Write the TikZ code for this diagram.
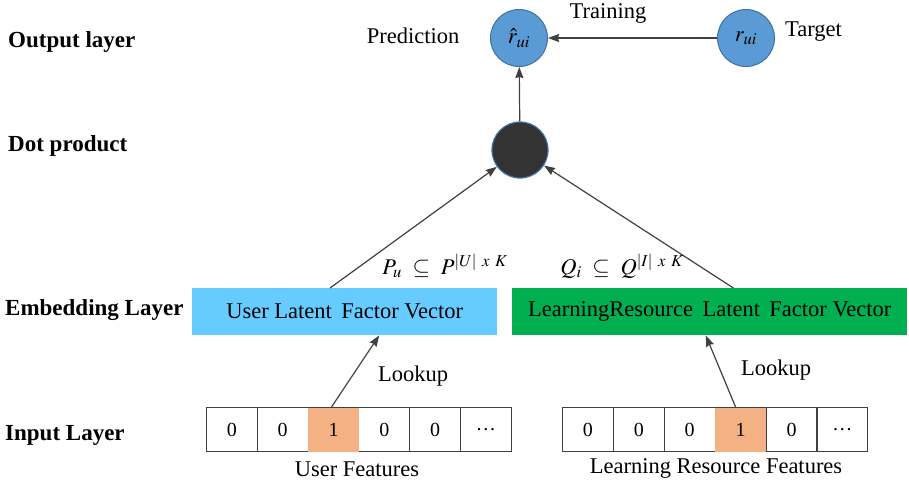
\documentclass[tikz,border=0pt]{standalone}
\usepackage{mathptmx}
\usepackage{fontspec}
\setmainfont{Liberation Serif}
\usetikzlibrary{arrows.meta,calc}
\definecolor{ballblue}{HTML}{5B9BD5}
\definecolor{ballrim}{HTML}{41719C}
\definecolor{userblue}{HTML}{66CCFF}
\definecolor{resgreen}{HTML}{00B050}
\definecolor{hotcell}{HTML}{F4B183}
\definecolor{wire}{HTML}{404040}
\begin{document}
\begin{tikzpicture}[x=1pt,y=-1pt,
  every node/.style={font=\fontsize{22.5}{26}\selectfont, inner sep=0pt},
  layer/.style={anchor=west, font=\fontsize{23}{27}\selectfont\bfseries},
  ball/.style={circle, minimum size=57pt, fill=ballblue, draw=ballrim, line width=1pt},
  dotball/.style={circle, minimum size=56pt, fill=black!80, draw=ballrim, line width=1.2pt},
  vecbox/.style={rectangle, minimum height=47pt, anchor=north west},
  cell/.style={rectangle, draw=wire, line width=1pt, minimum width=50.8pt, minimum height=44pt, anchor=north west, font=\fontsize{20}{24}\selectfont},
  link/.style={draw=wire, line width=1.2pt, -{Stealth[length=11pt,width=8pt,inset=1pt]}},
  plain/.style={font=\fontsize{22.5}{26}\selectfont}
]
\useasboundingbox (0,0) rectangle (909,485);

% layer names
\node[layer] (lo) at (8,42) {Output layer};
\node[layer] (ld) at (8,146) {Dot product};
\node[layer] (le) at (5,310) {Embedding Layer};
\node[layer] (li) at (5,435) {Input Layer};

% output layer
\node[ball] (pred) at (519,38) {$\hat{r}_{ui}$};
\node[ball] (targ) at (746,38) {$r_{ui}$};
\node[plain] (tpred) at (413,36) {Prediction};
\node[plain, anchor=west] (ttarg) at (785,32) {Target};
\node[plain] (ttrain) at (608,13) {Training};
\draw[link] (targ) -- (pred);

% dot product
\node[dotball] (dot) at (520,150) {};
\draw[link] (dot) -- (pred);

% embedding vectors
\node[vecbox, fill=userblue, minimum width=305pt] (ub) at (192,288) {};
\node at (ub.center) {User Latent\, Factor Vector};
\node[vecbox, fill=resgreen, minimum width=395pt] (rb) at (512,288) {};
\node at (rb.center) {LearningResource\, Latent\, Factor Vector};
\coordinate (ua) at ($(ub.north west)!0.452!(ub.north east)$);
\coordinate (ra) at ($(rb.north west)!0.56!(rb.north east)$);
\draw[link] (ua) -- (dot);
\draw[link] (ra) -- (dot);
\node (pl) at (445,266) {$P_u\ \subseteq\ P^{|U|\ x\ K}$};
\node (ql) at (622,266) {$Q_i\ \subseteq\ Q^{|I|\ x\ K}$};

% one-hot user features
\foreach \v [count=\k] in {0,0,1,0,0,\dots}{
  \node[cell] (u\k) at ({206+(\k-1)*50.8},407) {\v};
}
\fill[hotcell] ($(u3.north west)+(0.5,0.5)$) rectangle ($(u3.south east)+(-0.5,-0.5)$);
\node[font=\fontsize{20}{24}\selectfont] at (u3.center) {1};
\node[plain] (uf) at (357,469) {User Features};

% one-hot resource features
\foreach \v [count=\k] in {0,0,0,1,0,\dots}{
  \node[cell] (r\k) at ({562+(\k-1)*50.9},407) {\v};
}
\fill[hotcell] ($(r4.north west)+(0.5,0.5)$) rectangle ($(r4.south east)+(-0.5,-0.5)$);
\node[font=\fontsize{20}{24}\selectfont] at (r4.center) {1};
\node[plain] (rf) at (716,468) {Learning Resource Features};

% lookups
\coordinate (ul) at ($(ub.south west)!0.613!(ub.south east)$);
\coordinate (rl) at ($(rb.south west)!0.490!(rb.south east)$);
\draw[link] ($(u3.north)+(-2,0)$) -- (ul);
\draw[link] ($(r4.north)+(-5,0)$) -- (rl);
\node[plain, anchor=west] (lu) at (378,376) {Lookup};
\node[plain, anchor=west] (lr) at (741,370) {Lookup};
\end{tikzpicture}
\end{document}
